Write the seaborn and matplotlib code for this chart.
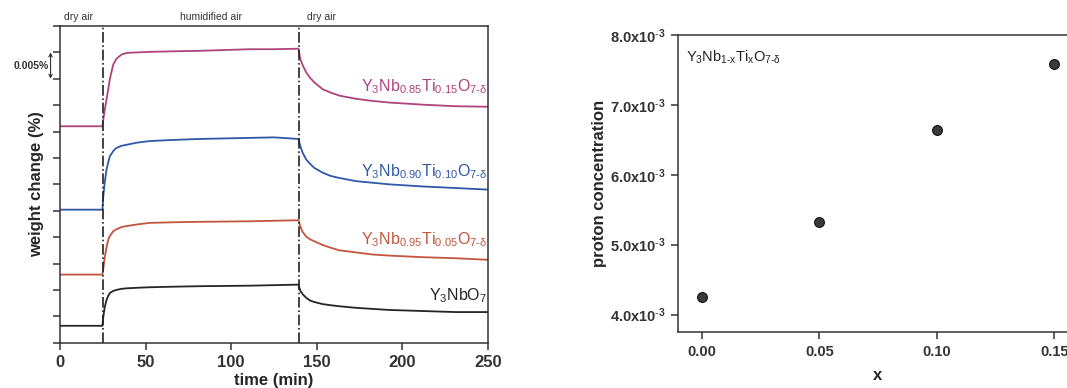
import pandas as pd
import numpy as np
import matplotlib
matplotlib.use('Agg')
import matplotlib.pyplot as plt
import seaborn as sns

# time axis shared by the four TG curves (min)
time = [0, 24.8, 25.3, 26.2, 27.2, 28.2, 29.1, 31.1, 33, 36, 39, 45, 52.5, 65, 81.6,
        110.8, 125, 139.3, 140.4, 141.7, 143.8, 146, 148.6, 153.5, 158, 163.2, 173,
        182.6, 192.3, 211.7, 231, 250]

# weight change (%), curves offset vertically as in the figure
w_ti15 = [0.0410, 0.0410, 0.0423, 0.0442, 0.0461, 0.0480, 0.0499, 0.0527, 0.0538, 0.0546,
          0.0549, 0.0550, 0.0551, 0.0552, 0.0553, 0.0556, 0.0556, 0.0557, 0.0537, 0.0526,
          0.0512, 0.0502, 0.0493, 0.0480, 0.0474, 0.0468, 0.0462, 0.0458, 0.0455, 0.0451,
          0.0448, 0.0447]
w_ti10 = [0.0252, 0.0252, 0.0277, 0.0305, 0.0328, 0.0342, 0.0353, 0.0363, 0.0369, 0.0373,
          0.0375, 0.0379, 0.0382, 0.0384, 0.0386, 0.0388, 0.0389, 0.0386, 0.0372, 0.0360,
          0.0347, 0.0339, 0.0331, 0.0322, 0.0316, 0.0312, 0.0306, 0.0303, 0.0300, 0.0296,
          0.0293, 0.0290]
w_ti05 = [0.0129, 0.0129, 0.0140, 0.0163, 0.0181, 0.0195, 0.0202, 0.0211, 0.0215, 0.0219,
          0.0221, 0.0224, 0.0227, 0.0228, 0.0229, 0.0230, 0.0231, 0.0232, 0.0220, 0.0210,
          0.0201, 0.0196, 0.0192, 0.0185, 0.0180, 0.0175, 0.0171, 0.0167, 0.0165, 0.0162,
          0.0160, 0.0157]
w_ti00 = [0.0032, 0.0032, 0.0049, 0.0068, 0.0081, 0.0089, 0.0094, 0.0098, 0.0100, 0.0102,
          0.0103, 0.0104, 0.0105, 0.0106, 0.0107, 0.0108, 0.0109, 0.0110, 0.0098, 0.0092,
          0.0085, 0.0080, 0.0077, 0.0073, 0.0071, 0.0069, 0.0066, 0.0064, 0.0062, 0.0060,
          0.0058, 0.0058]

series_names = ['Ti0.15', 'Ti0.10', 'Ti0.05', 'Ti0.00']
series_labels = [r'Y$_3$Nb$_{0.85}$Ti$_{0.15}$O$_{7\text{-}δ}$',
                 r'Y$_3$Nb$_{0.90}$Ti$_{0.10}$O$_{7\text{-}δ}$',
                 r'Y$_3$Nb$_{0.95}$Ti$_{0.05}$O$_{7\text{-}δ}$',
                 r'Y$_3$NbO$_7$']
label_y = [0.0476, 0.0315, 0.01855, 0.0081]
colors = ['#b0427c', '#2f58a6', '#c2553d', '#252525']

switch_times = [25, 139.5]
atmos = ['dry air', 'humidified air', 'dry air']
atmos_x = [11, 88, 153]

# proton concentration vs x
x_ti = [0.00, 0.05, 0.10, 0.15]
proton = [4.25e-3, 5.32e-3, 6.64e-3, 7.59e-3]

df = pd.DataFrame({
    'time': time * 4,
    'weight': w_ti15 + w_ti10 + w_ti05 + w_ti00,
    'sample': sum([[n] * len(time) for n in series_names], []),
})

sns.set_theme(style='ticks')
plt.rcParams['font.family'] = ['Liberation Sans', 'DejaVu Sans']
plt.rcParams['mathtext.fontset'] = 'custom'
plt.rcParams['mathtext.rm'] = 'Liberation Sans'
plt.rcParams['mathtext.it'] = 'Liberation Sans:italic'
plt.rcParams['mathtext.bf'] = 'Liberation Sans:bold'
plt.rcParams['mathtext.default'] = 'regular'
plt.rcParams['axes.edgecolor'] = '#333333'
plt.rcParams['xtick.color'] = '#333333'
plt.rcParams['ytick.color'] = '#333333'

fig = plt.figure(figsize=(10.67, 3.88), dpi=100)
ax1 = fig.add_axes([0.0562, 0.1168, 0.4012, 0.8162])
ax2 = fig.add_axes([0.6354, 0.1443, 0.3749, 0.7655])

# left panel
sns.lineplot(data=df, x='time', y='weight', hue='sample', palette=dict(zip(series_names, colors)),
             estimator=None, linewidth=1.3, legend=False, ax=ax1)
for t in switch_times:
    ax1.axvline(t, color='#222222', linestyle='-.', linewidth=1.2)
for lab, yy, c in zip(series_labels, label_y, colors):
    ax1.text(249.5, yy, lab, color=c, fontsize=11.5, ha='right', va='baseline')
for lab, xx in zip(atmos, atmos_x):
    ax1.text(xx, 1.012, lab, transform=ax1.get_xaxis_transform(), fontsize=7.5,
             ha='center', va='bottom', color='#333333')
ax1.set_xlim(0, 250)
ax1.set_ylim(0, 0.06)
ax1.set_xticks([0, 50, 100, 150, 200, 250])
ax1.set_yticks(np.arange(0, 0.0601, 0.005))
ax1.set_yticklabels([])
ax1.tick_params(axis='x', labelsize=12, length=5, width=1.1, pad=4)
ax1.tick_params(axis='y', length=5, width=1.1)
for lbl in ax1.get_xticklabels():
    lbl.set_fontweight('bold')
ax1.set_xlabel('time (min)', fontsize=12, fontweight='bold', labelpad=2)
ax1.set_ylabel('weight change (%)', fontsize=12, fontweight='bold', labelpad=3)
ax1.annotate('', xy=(-0.022, 0.055), xytext=(-0.022, 0.050),
             xycoords=ax1.get_yaxis_transform(),
             arrowprops=dict(arrowstyle='<->', color='#333333', lw=0.8,
                             shrinkA=0, shrinkB=0, mutation_scale=6))
ax1.text(-0.027, 0.0525, '0.005%', transform=ax1.get_yaxis_transform(), fontsize=7.5,
         fontweight='bold', ha='right', va='center', color='#333333')
for s in ax1.spines.values():
    s.set_linewidth(1.1)

# right panel
sns.scatterplot(x=x_ti, y=proton, color='#3a3a3a', edgecolor='#111111', s=50,
                linewidth=0.8, ax=ax2, zorder=3)
ax2.set_xlim(-0.0102, 0.16)
ax2.set_ylim(3.75e-3, 8.0e-3)
ax2.set_xticks([0.00, 0.05, 0.10, 0.15])
ax2.set_xticklabels(['0.00', '0.05', '0.10', '0.15'])
yt = [4e-3, 5e-3, 6e-3, 7e-3, 8e-3]
ax2.set_yticks(yt)
ax2.set_yticklabels([r'$\mathbf{%.1fx10^{\text{-}3}}$' % (v * 1e3) for v in yt])
ax2.tick_params(axis='both', labelsize=10.5, length=5, width=1.1, pad=4)
for lbl in ax2.get_xticklabels():
    lbl.set_fontweight('bold')
ax2.set_xlabel('x', fontsize=12, fontweight='bold', labelpad=7)
ax2.set_ylabel('proton concentration', fontsize=12, fontweight='bold', labelpad=2)
ax2.text(0.02, 0.955, r'Y$_3$Nb$_{1\text{-}x}$Ti$_x$O$_{7\text{-}δ}$', transform=ax2.transAxes,
         fontsize=10.5, ha='left', va='top', color='#222222')
for s in ax2.spines.values():
    s.set_linewidth(1.1)

fig.savefig('out.png', dpi=100, facecolor='white')
